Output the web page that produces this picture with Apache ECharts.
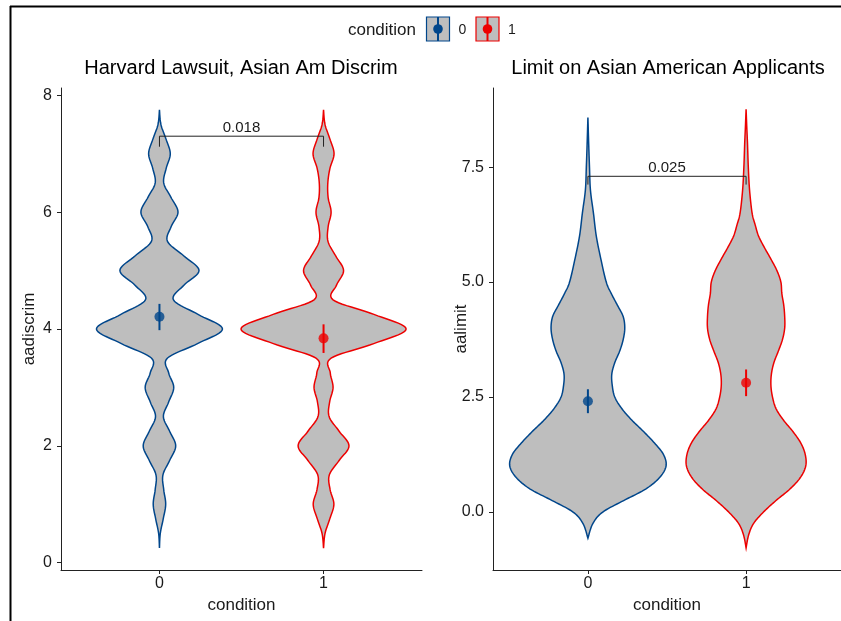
<!DOCTYPE html>
<html>
<head>
<meta charset="utf-8">
<script src="https://cdn.jsdelivr.net/npm/echarts@6/dist/echarts.min.js"></script>
<style>
  html, body { margin: 0; padding: 0; background: #ffffff; }
  #chart { width: 841px; height: 621px; }
</style>
</head>
<body>
<div id="chart"></div>
<script>
// ---- data ----------------------------------------------------------------
const conditions = ['0', '1'];
const panelTitles = ['Harvard Lawsuit, Asian Am Discrim', 'Limit on Asian American Applicants'];
const yNames = ['aadiscrim', 'aalimit'];
const xName = 'condition';
const discrimTicks = [0, 2, 4, 6, 8];
const limitTicks = [0, 2.5, 5, 7.5];

// violin outlines: response level and half-width (condition-axis units)
const discrimLevels = [0.25, 0.5, 0.75, 1, 1.25, 1.5, 1.75, 2, 2.25, 2.5, 2.75, 3, 3.25, 3.5, 3.75, 4,
  4.25, 4.5, 4.75, 5, 5.25, 5.5, 5.75, 6, 6.25, 6.5, 6.75, 7, 7.25, 7.5, 7.75];
const discrimWidth0 = [0, 0.005, 0.023, 0.038, 0.026, 0.021, 0.062, 0.099, 0.062, 0.024, 0.056, 0.087,
  0.056, 0.048, 0.232, 0.384, 0.235, 0.085, 0.149, 0.241, 0.149, 0.049, 0.071, 0.113, 0.071, 0.026,
  0.041, 0.066, 0.040, 0.009, 0];
const discrimWidth1 = [0, 0.009, 0.038, 0.063, 0.040, 0.035, 0.095, 0.155, 0.095, 0.034, 0.037, 0.058,
  0.041, 0.046, 0.306, 0.503, 0.307, 0.058, 0.079, 0.122, 0.074, 0.027, 0.028, 0.046, 0.028, 0.026,
  0.039, 0.064, 0.039, 0.009, 0];

const limitLevels0 = [-0.57, -0.25, 0, 0.25, 0.5, 0.75, 1, 1.25, 1.5, 1.75, 2, 2.25, 2.5, 2.75, 3, 3.25,
  3.5, 3.75, 4, 4.25, 4.5, 4.75, 5, 5.5, 6, 6.5, 7, 7.5, 8, 8.58];
const limitWidth0 = [0, 0.031, 0.094, 0.226, 0.365, 0.453, 0.494, 0.478, 0.421, 0.352, 0.277, 0.214,
  0.170, 0.154, 0.151, 0.170, 0.201, 0.223, 0.233, 0.223, 0.186, 0.148, 0.116, 0.082, 0.053, 0.035,
  0.016, 0.010, 0.005, 0];
const limitLevels1 = [-0.78, -0.5, -0.25, 0, 0.25, 0.5, 0.75, 1, 1.25, 1.5, 1.75, 2, 2.25, 2.5, 2.75, 3,
  3.25, 3.5, 3.75, 4, 4.25, 4.5, 4.75, 5, 5.25, 5.5, 5.75, 6, 6.25, 6.5, 7, 7.5, 8, 8.4, 8.76];
const limitWidth1 = [0, 0.016, 0.047, 0.110, 0.189, 0.277, 0.343, 0.377, 0.374, 0.346, 0.296, 0.236,
  0.189, 0.167, 0.157, 0.160, 0.176, 0.204, 0.230, 0.244, 0.244, 0.238, 0.226, 0.220, 0.195, 0.157,
  0.116, 0.079, 0.057, 0.038, 0.022, 0.014, 0.009, 0.004, 0];

// group means with standard-error bars
const discrimMean = [4.21, 3.84];
const discrimLow = [3.98, 3.59];
const discrimHigh = [4.43, 4.08];
const limitMean = [2.41, 2.81];
const limitLow = [2.15, 2.52];
const limitHigh = [2.67, 3.10];

// pairwise comparison brackets
const discrimP = '0.018';
const limitP = '0.025';
const bracketLevel = [7.3, 7.3];
const bracketTipLevel = [7.12, 7.12];

// ---- styling ---------------------------------------------------------------
const palette = ['#00468B', '#ED0000'];
const violinFill = '#BEBEBE';
const FONT = '"Liberation Sans", Arial, Helvetica, sans-serif';
const ink = '#1a1a1a';

// Catmull-Rom curve through the outline points of one violin side
function curveThrough(pts, steps) {
  const out = [];
  const n = pts.length;
  for (let i = 0; i < n - 1; i++) {
    const p0 = pts[Math.max(i - 1, 0)], p1 = pts[i], p2 = pts[i + 1], p3 = pts[Math.min(i + 2, n - 1)];
    for (let s = 0; s < steps; s++) {
      const t = s / steps, t2 = t * t, t3 = t2 * t;
      const f = (a, b, c, d) => 0.5 * (2 * b + (-a + c) * t + (2 * a - 5 * b + 4 * c - d) * t2 + (-a + 3 * b - 3 * c + d) * t3);
      out.push([f(p0[0], p1[0], p2[0], p3[0]), f(p0[1], p1[1], p2[1], p3[1])]);
    }
  }
  out.push(pts[n - 1]);
  return out;
}

function violinRenderer(groups) {
  return function (params, api) {
    const g = groups[params.dataIndex];
    const x = api.value(0);
    const cx = api.coord([x, g.levels[0]])[0];
    const right = g.levels.map((y, k) => api.coord([x + g.width[k], y]));
    const left = g.levels.map((y, k) => api.coord([x - g.width[k], y])).reverse();
    const r = curveThrough(right, 10).map(p => [Math.max(p[0], cx), p[1]]);
    const l = curveThrough(left, 10).map(p => [Math.min(p[0], cx), p[1]]);
    return {
      type: 'polygon',
      shape: { points: r.concat(l.slice(1, -1)) },
      style: { fill: violinFill, stroke: palette[params.dataIndex], lineWidth: 1.5 }
    };
  };
}

function errorBarRenderer(params, api) {
  const x = api.value(0);
  const a = api.coord([x, api.value(1)]);
  const b = api.coord([x, api.value(2)]);
  return {
    type: 'line',
    shape: { x1: a[0], y1: a[1], x2: b[0], y2: b[1] },
    style: { stroke: palette[params.dataIndex], lineWidth: 2 }
  };
}

function bracketRenderer(label) {
  return function (params, api) {
    const x0 = api.value(0), x1 = api.value(1), y = api.value(2), tip = api.value(3);
    const p0 = api.coord([x0, tip]), p1 = api.coord([x0, y]), p2 = api.coord([x1, y]), p3 = api.coord([x1, tip]);
    return {
      type: 'group',
      children: [
        { type: 'polyline', shape: { points: [p0, p1, p2, p3] }, style: { stroke: '#222', lineWidth: 1, fill: null } },
        {
          type: 'text',
          style: {
            text: label, x: (p1[0] + p2[0]) / 2, y: p1[1] - 1,
            align: 'center', verticalAlign: 'bottom',
            font: '15px ' + FONT, fill: ink
          }
        }
      ]
    };
  };
}

const discrimGroups = [
  { levels: discrimLevels, width: discrimWidth0 },
  { levels: discrimLevels, width: discrimWidth1 }
];
const limitGroups = [
  { levels: limitLevels0, width: limitWidth0 },
  { levels: limitLevels1, width: limitWidth1 }
];

function xAxisFor(gridIndex) {
  return {
    type: 'value', gridIndex, min: -0.6, max: 1.6,
    name: xName, nameLocation: 'middle', nameGap: 27, nameMoveOverlap: false,
    nameTextStyle: { fontFamily: FONT, fontSize: 17, color: ink },
    axisLine: { show: true, onZero: false, lineStyle: { color: '#222', width: 1 } },
    axisTick: { show: true, length: 4, customValues: [0, 1], lineStyle: { color: '#222' } },
    axisLabel: {
      customValues: [0, 1], margin: 6, fontFamily: FONT, fontSize: 16, color: ink,
      formatter: v => conditions[Math.round(v)]
    },
    splitLine: { show: false }
  };
}

function yAxisFor(gridIndex, min, max, ticks, name, fmt) {
  return {
    type: 'value', gridIndex, min, max,
    name, nameLocation: 'middle', nameGap: 23, nameMoveOverlap: false,
    nameTextStyle: { fontFamily: FONT, fontSize: 17, color: ink },
    axisLine: { show: true, onZero: false, lineStyle: { color: '#222', width: 1 } },
    axisTick: { show: true, length: 4, customValues: ticks, lineStyle: { color: '#222' } },
    axisLabel: { customValues: ticks, margin: 9, fontFamily: FONT, fontSize: 16, color: ink, formatter: fmt },
    splitLine: { show: false }
  };
}

const chart = echarts.init(document.getElementById('chart'), null, { renderer: 'canvas' });

// legend keys drawn as small violin swatches
function legendKey(x, color, label) {
  return [
    { type: 'rect', shape: { x: x, y: 17, width: 23, height: 24 }, style: { fill: violinFill, stroke: color, lineWidth: 1.2 } },
    { type: 'line', shape: { x1: x + 11.5, y1: 17, x2: x + 11.5, y2: 41 }, style: { stroke: color, lineWidth: 2 } },
    { type: 'circle', shape: { cx: x + 11.5, cy: 29, r: 4.8 }, style: { fill: color } },
    { type: 'text', style: { text: label, x: x + 36, y: 30, align: 'center', verticalAlign: 'middle', font: '14px ' + FONT, fill: ink } }
  ];
}

const graphics = [
  // outer frame
  { type: 'line', shape: { x1: 10, y1: 6.5, x2: 841, y2: 6.5 }, style: { stroke: '#000', lineWidth: 2 } },
  { type: 'line', shape: { x1: 10.5, y1: 6, x2: 10.5, y2: 621 }, style: { stroke: '#000', lineWidth: 2 } },
  // panel titles
  { type: 'text', style: { text: panelTitles[0], x: 241, y: 68, align: 'center', verticalAlign: 'middle', font: '20px ' + FONT, fill: '#000' } },
  { type: 'text', style: { text: panelTitles[1], x: 668, y: 68, align: 'center', verticalAlign: 'middle', font: '20px ' + FONT, fill: '#000' } },
  // legend
  { type: 'text', style: { text: xName, x: 416, y: 30, align: 'right', verticalAlign: 'middle', font: '17px ' + FONT, fill: ink } }
].concat(legendKey(426.5, palette[0], conditions[0]), legendKey(476, palette[1], conditions[1]));

chart.setOption({
  animation: false,
  backgroundColor: '#ffffff',
  grid: [
    { left: 61, right: 419, top: 88, bottom: 51 },
    { left: 493, right: -2, top: 88, bottom: 51 }
  ],
  xAxis: [xAxisFor(0), xAxisFor(1)],
  yAxis: [
    yAxisFor(0, -0.125, 8.125, discrimTicks, yNames[0], v => String(v)),
    yAxisFor(1, -1.26, 9.22, limitTicks, yNames[1], v => v.toFixed(1))
  ],
  graphic: { elements: graphics },
  series: [
    { type: 'custom', xAxisIndex: 0, yAxisIndex: 0, data: [[0], [1]], renderItem: violinRenderer(discrimGroups), z: 1, silent: true },
    { type: 'custom', xAxisIndex: 1, yAxisIndex: 1, data: [[0], [1]], renderItem: violinRenderer(limitGroups), z: 1, silent: true },
    { type: 'custom', xAxisIndex: 0, yAxisIndex: 0, data: [[0, 1, bracketLevel[0], bracketTipLevel[0]]], renderItem: bracketRenderer(discrimP), z: 2, silent: true },
    { type: 'custom', xAxisIndex: 1, yAxisIndex: 1, data: [[0, 1, bracketLevel[1], bracketTipLevel[1]]], renderItem: bracketRenderer(limitP), z: 2, silent: true },
    { type: 'custom', xAxisIndex: 0, yAxisIndex: 0, data: [[0, discrimLow[0], discrimHigh[0]], [1, discrimLow[1], discrimHigh[1]]], renderItem: errorBarRenderer, z: 3, silent: true },
    { type: 'custom', xAxisIndex: 1, yAxisIndex: 1, data: [[0, limitLow[0], limitHigh[0]], [1, limitLow[1], limitHigh[1]]], renderItem: errorBarRenderer, z: 3, silent: true },
    {
      type: 'scatter', xAxisIndex: 0, yAxisIndex: 0, symbolSize: 10, z: 4, silent: true,
      data: discrimMean.map((m, i) => ({ value: [i, m], itemStyle: { color: palette[i] } }))
    },
    {
      type: 'scatter', xAxisIndex: 1, yAxisIndex: 1, symbolSize: 10, z: 4, silent: true,
      data: limitMean.map((m, i) => ({ value: [i, m], itemStyle: { color: palette[i] } }))
    }
  ]
});
</script>
</body>
</html>
